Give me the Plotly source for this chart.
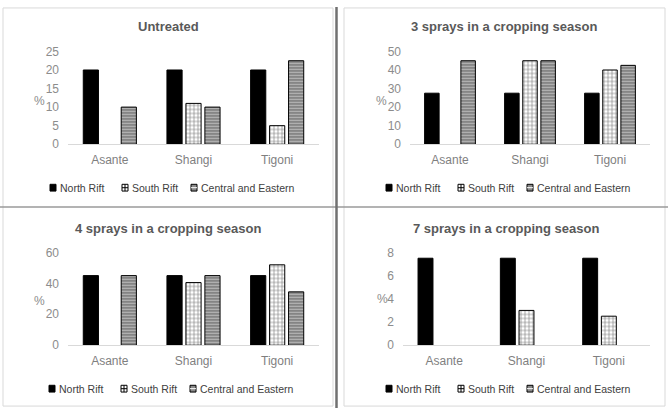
import plotly.graph_objects as go

categories = ["Asante", "Shangi", "Tigoni"]
series_names = ["North Rift", "South Rift", "Central and Eastern"]

untreated_nr = [20, 20, 20]
untreated_sr = [None, 11, 5]
untreated_ce = [10, 10, 22.5]

spray3_nr = [27.5, 27.5, 27.5]
spray3_sr = [None, 45, 40]
spray3_ce = [45, 45, 42.5]

spray4_nr = [45, 45, 45]
spray4_sr = [None, 40.5, 52]
spray4_ce = [45, 45, 34.5]

spray7_nr = [7.5, 7.5, 7.5]
spray7_sr = [None, 3, 2.5]
spray7_ce = [None, None, None]

titles = ["Untreated", "3 sprays in a cropping season",
          "4 sprays in a cropping season", "7 sprays in a cropping season"]
y_max = [25, 50, 60, 8]
y_dtick = [5, 10, 20, 2]

panels = [
    (untreated_nr, untreated_sr, untreated_ce),
    (spray3_nr, spray3_sr, spray3_ce),
    (spray4_nr, spray4_sr, spray4_ce),
    (spray7_nr, spray7_sr, spray7_ce),
]

W, H = 668, 415
def px(x):
    return x / W
def py(y):
    return 1 - y / H

# plot-area pixel boxes (left, right, top, bottom)
boxes = [(68, 319, 46, 142), (410, 650, 46, 142),
         (68, 319, 254, 350), (403, 650, 254, 350)]
title_pos = [(168, 20), (504, 20), (168, 229), (506, 229)]
pct_pos = [(39, 97), (381, 97), (39, 304), (382, 302)]
legend_origin = [(50, 187), (386, 187), (49, 395), (386, 395)]
legend_offsets = [0, 72, 141]

styles = [
    dict(color="black", pattern=None),
    dict(color="white", pattern=dict(shape="+", size=4, solidity=0.3, fgcolor="black", bgcolor="white", fillmode="overlay")),
    dict(color="white", pattern=dict(shape="-", size=3, solidity=0.5, fgcolor="black", bgcolor="#c8c8c8", fillmode="overlay")),
]
legend_fill = ["black", "white", "#8a8a8a"]

fig = go.Figure()
layout = {}
annotations = []
shapes = []
font_fam = "Liberation Sans, Arial, sans-serif"
for i, (vals, box) in enumerate(zip(panels, boxes)):
    suffix = "" if i == 0 else str(i + 1)
    xa, ya = "x" + suffix, "y" + suffix
    for j, (name, v) in enumerate(zip(series_names, vals)):
        st = styles[j]
        marker = dict(color=st["color"], line=dict(color="black", width=1))
        if st["pattern"]:
            marker["pattern"] = st["pattern"]
        fig.add_trace(go.Bar(x=categories, y=v, name=name, marker=marker,
                             xaxis=xa, yaxis=ya, showlegend=False))
    l, r, t, b = box
    layout["xaxis" + suffix] = dict(
        domain=[px(l), px(r)], anchor=ya, showline=True, linecolor="#d9d9d9",
        linewidth=1, ticks="", tickfont=dict(size=12, color="#7f7f7f", family=font_fam),
        showgrid=False, zeroline=False, fixedrange=True, ticklabelstandoff=4)
    layout["yaxis" + suffix] = dict(
        domain=[py(b), py(t)], anchor=xa, range=[0, y_max[i]], dtick=y_dtick[i],
        showline=False, showgrid=False, zeroline=False, ticks="",
        tickfont=dict(size=12, color="#8c8c8c", family=font_fam), ticklabelstandoff=8)
    tx, ty = title_pos[i]
    annotations.append(dict(text="<b>" + titles[i] + "</b>", x=px(tx), y=py(ty), xref="paper", yref="paper",
                            xanchor="center", yanchor="middle",
                            showarrow=False, font=dict(size=13, color="#595959", family=font_fam)))
    cx, cy = pct_pos[i]
    annotations.append(dict(text="%", x=px(cx), y=py(cy), xref="paper", yref="paper",
                            xanchor="center", yanchor="middle",
                            showarrow=False, font=dict(size=12, color="#8c8c8c", family=font_fam)))
    # legend (manual, compact like the original)
    ox, oy = legend_origin[i]
    for j, name in enumerate(series_names):
        sx = ox + legend_offsets[j]
        shapes.append(dict(type="rect", xref="paper", yref="paper",
                           x0=px(sx), x1=px(sx + 6), y0=py(oy + 3.5), y1=py(oy - 3.5),
                           fillcolor=legend_fill[j], line=dict(color="black", width=1)))
        if j == 1:
            shapes.append(dict(type="line", xref="paper", yref="paper", x0=px(sx), x1=px(sx + 6),
                               y0=py(oy), y1=py(oy), line=dict(color="black", width=1)))
            shapes.append(dict(type="line", xref="paper", yref="paper", x0=px(sx + 3), x1=px(sx + 3),
                               y0=py(oy + 3.5), y1=py(oy - 3.5), line=dict(color="black", width=1)))
        if j == 2:
            shapes.append(dict(type="line", xref="paper", yref="paper", x0=px(sx), x1=px(sx + 6),
                               y0=py(oy), y1=py(oy), line=dict(color="white", width=1)))
        annotations.append(dict(text=name, x=px(sx + 8), y=py(oy), xref="paper", yref="paper",
                                xanchor="left", yanchor="middle", showarrow=False,
                                font=dict(size=10.5, color="#404040", family=font_fam)))

shapes += [
    dict(type="rect", xref="paper", yref="paper", x0=px(3), x1=px(333), y0=py(413), y1=py(1), line=dict(color="#d9d9d9", width=1)),
    dict(type="rect", xref="paper", yref="paper", x0=px(344), x1=px(665), y0=py(413), y1=py(1), line=dict(color="#d9d9d9", width=1)),
    dict(type="line", xref="paper", yref="paper", x0=0, x1=1, y0=py(207), y1=py(207), line=dict(color="#9a9a9a", width=1.5)),
    dict(type="line", xref="paper", yref="paper", x0=px(336.5), x1=px(336.5), y0=0, y1=1, line=dict(color="#707070", width=2.5)),
]

fig.update_layout(
    width=W, height=H, margin=dict(l=0, r=0, t=0, b=0),
    paper_bgcolor="white", plot_bgcolor="white",
    barmode="group", bargap=0.32, bargroupgap=0.2, showlegend=False,
    annotations=annotations, shapes=shapes, **layout)

fig.write_html("out.html", config={"displayModeBar": False})
